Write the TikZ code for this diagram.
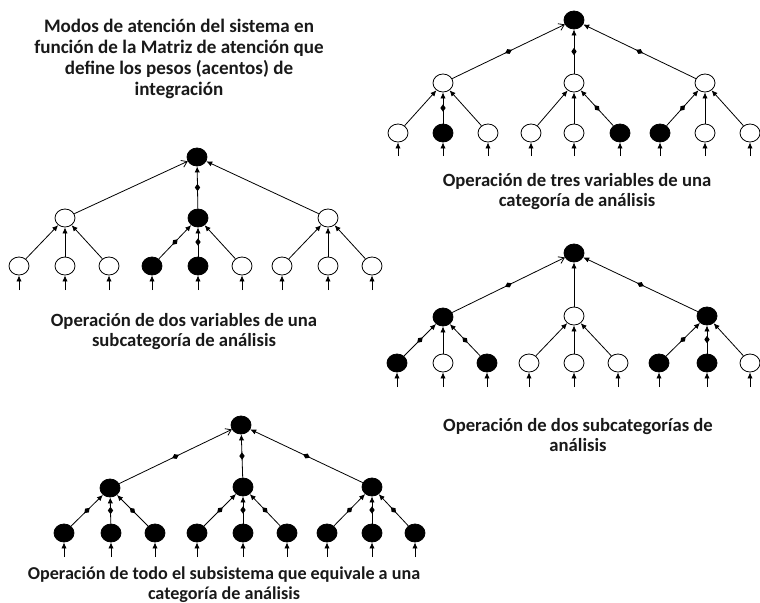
\documentclass[tikz,border=0pt]{standalone}
\usepackage{fontspec}
\setmainfont{Carlito}
\usepackage{tikz}
\usetikzlibrary{arrows.meta,shapes.geometric,decorations.markings}

\begin{document}
\begin{tikzpicture}[x=0.75pt, y=-0.75pt,
    wn/.style={draw, ellipse, fill=white, line width=0.6pt, minimum width=15pt, minimum height=13.5pt, inner sep=0pt},
    bn/.style={wn, fill=black},
    link/.style={-{Latex[length=4.5pt, width=4pt]}, line width=0.6pt},
    olink/.style={-{Straight Barb[length=4pt, width=5.5pt]}, line width=0.6pt},
    dmd/.style={postaction={decorate, decoration={markings, mark=at position 0.5 with {\fill (-2.8pt,0) -- (0,2pt) -- (2.8pt,0) -- (0,-2pt) -- cycle;}}}},
    caption/.style={font=\fontsize{14}{15}\selectfont\bfseries, align=center, text=black!90}
]
\useasboundingbox (0,0) rectangle (760,603);

% title
\node[caption, font=\fontsize{14.3}{15.8}\selectfont\bfseries] (title) at (179,59)
  {Modos de atención del sistema en\\función de la Matriz de atención que\\define los pesos (acentos) de\\integración};

% tres variables de una categoria
\node[bn] (A-r) at (574,20) {};
\node[wn] (A-m1) at (443,83) {};
\node[wn] (A-m2) at (574,83) {};
\node[wn] (A-m3) at (705,83) {};
\foreach \i/\x/\s in {1/398/wn,2/443/bn,3/488/wn,4/531/wn,5/574/wn,6/620/bn,7/660/bn,8/705/wn,9/750/wn}{
  \node[\s] (A-l\i) at (\x,133) {};
  \coordinate (A-i\i) at (\x,156);
  \draw[link] (A-i\i) -- (A-l\i);
}
\draw[olink,dmd] (A-m1) -- (A-r);
\draw[link,dmd] (A-m2) -- (A-r);
\draw[link,dmd] (A-m3) -- (A-r);
\foreach \i/\p/\d in {1/1/,2/1/dmd,3/1/,4/2/,5/2/,6/2/dmd,7/3/dmd,8/3/,9/3/}
  \draw[link,\d] (A-l\i) -- (A-m\p);
\node[caption] (A-cap) at (577,192) {Operación de tres variables de una\\categoría de análisis};

% dos variables de una subcategoria
\node[bn] (B-r) at (197,157) {};
\node[wn] (B-m1) at (65,218) {};
\node[bn] (B-m2) at (198,218) {};
\node[wn] (B-m3) at (328,218) {};
\foreach \i/\x/\s in {1/19/wn,2/65/wn,3/109/wn,4/152/bn,5/198/bn,6/242/wn,7/282/wn,8/328/wn,9/372/wn}{
  \node[\s] (B-l\i) at (\x,266) {};
  \coordinate (B-i\i) at (\x,290);
  \draw[link] (B-i\i) -- (B-l\i);
}
\draw[olink] (B-m1) -- (B-r);
\draw[link,dmd] (B-m2) -- (B-r);
\draw[link] (B-m3) -- (B-r);
\foreach \i/\p/\d in {1/1/,2/1/,3/1/,4/2/dmd,5/2/dmd,6/2/,7/3/,8/3/,9/3/}
  \draw[link,\d] (B-l\i) -- (B-m\p);
\node[caption] (B-cap) at (184,332) {Operación de dos variables de una\\subcategoría de análisis};

% dos subcategorias
\node[bn] (C-r) at (574,253) {};
\node[bn] (C-m1) at (443,317) {};
\node[wn] (C-m2) at (574,316) {};
\node[bn] (C-m3) at (707,316) {};
\foreach \i/\x/\s in {1/397/bn,2/443/wn,3/487/bn,4/529/wn,5/574/wn,6/618/wn,7/659/bn,8/707/bn,9/750/wn}{
  \node[\s] (C-l\i) at (\x,363) {};
  \coordinate (C-i\i) at (\x,387);
  \draw[link] (C-i\i) -- (C-l\i);
}
\draw[olink,dmd] (C-m1) -- (C-r);
\draw[link] (C-m2) -- (C-r);
\draw[link,dmd] (C-m3) -- (C-r);
\foreach \i/\p/\d in {1/1/dmd,2/1/,3/1/dmd,4/2/,5/2/,6/2/,7/3/dmd,8/3/dmd,9/3/}
  \draw[link,\d] (C-l\i) -- (C-m\p);
\node[caption] (C-cap) at (578,435) {Operación de dos subcategorías de\\análisis};

% todo el subsistema
\node[bn] (D-r) at (241,425) {};
\node[bn] (D-m1) at (110,488) {};
\node[bn] (D-m2) at (243,487) {};
\node[bn] (D-m3) at (372,487) {};
\foreach \i/\x in {1/64,2/111,3/155,4/197,5/243,6/287,7/327,8/372,9/415}{
  \node[bn] (D-l\i) at (\x,533) {};
  \coordinate (D-i\i) at (\x,557);
  \draw[link] (D-i\i) -- (D-l\i);
}
\draw[olink,dmd] (D-m1) -- (D-r);
\draw[link,dmd] (D-m2) -- (D-r);
\draw[link,dmd] (D-m3) -- (D-r);
\foreach \i/\p in {1/1,2/1,3/1,4/2,5/2,6/2,7/3,8/3,9/3}
  \draw[link,dmd] (D-l\i) -- (D-m\p);
\node[caption, font=\fontsize{13.6}{15}\selectfont\bfseries] (D-cap) at (224,585) {Operación de todo el subsistema que equivale a una\\categoría de análisis};
\end{tikzpicture}
\end{document}
